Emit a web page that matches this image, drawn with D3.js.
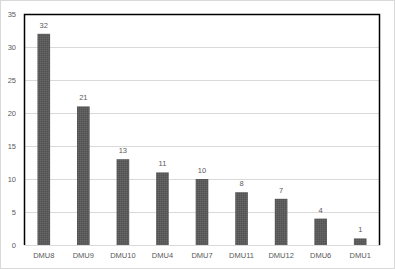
<!DOCTYPE html>
<html>
<head>
<meta charset="utf-8">
<script src="https://cdn.jsdelivr.net/npm/d3@7"></script>
<style>
  html, body { margin: 0; padding: 0; background: #fff; }
  svg { display: block; }
</style>
</head>
<body>
<div class="chart"></div>
<script>
// data
const categories = ['DMU8', 'DMU9', 'DMU10', 'DMU4', 'DMU7', 'DMU11', 'DMU12', 'DMU6', 'DMU1'];
const values = [32, 21, 13, 11, 10, 8, 7, 4, 1];
const yTicks = [0, 5, 10, 15, 20, 25, 30, 35];

// dimensions
const width = 395;
const height = 269;
const margin = { top: 14, right: 15, bottom: 24, left: 24 };
const innerWidth = width - margin.left - margin.right;
const innerHeight = height - margin.top - margin.bottom;

// colors
const barColor = '#5c5c5c';
const gridColor = '#d9d9d9';
const textColor = '#595959';
const font = 'Liberation Sans, Arial, sans-serif';

const svg = d3.select('.chart')
  .append('svg')
    .attr('width', width)
    .attr('height', height);

// fine dotted texture for bars
const pattern = svg.append('defs')
  .append('pattern')
    .attr('id', 'tex')
    .attr('width', 2)
    .attr('height', 2)
    .attr('patternUnits', 'userSpaceOnUse');
pattern.append('rect')
    .attr('width', 2).attr('height', 2)
    .attr('fill', barColor);
pattern.append('rect')
    .attr('width', 1).attr('height', 1)
    .attr('fill', '#666666');
pattern.append('rect')
    .attr('x', 1).attr('y', 1)
    .attr('width', 1).attr('height', 1)
    .attr('fill', '#525252');

// outer border
svg.append('rect')
    .attr('x', 0.5).attr('y', 0.5)
    .attr('width', width - 1).attr('height', height - 1)
    .attr('fill', 'none')
    .attr('stroke', gridColor);

const innerChart = svg.append('g')
    .attr('transform', `translate(${margin.left}, ${margin.top})`);

// scales
const xScale = d3.scaleBand()
  .domain(categories)
  .range([0, innerWidth])
  .paddingInner(0.68)
  .paddingOuter(0.34);

const yScale = d3.scaleLinear()
  .domain([0, 35])
  .range([innerHeight, 0]);

// gridlines
innerChart.append('g')
  .selectAll('line')
  .data(yTicks.filter(d => d > 0))
  .join('line')
    .attr('x1', 0)
    .attr('x2', innerWidth)
    .attr('y1', d => Math.round(yScale(d)) + 0.5)
    .attr('y2', d => Math.round(yScale(d)) + 0.5)
    .attr('stroke', gridColor);

// bars
innerChart.selectAll('.bar')
  .data(values)
  .join('rect')
    .attr('class', 'bar')
    .attr('x', (d, i) => xScale(categories[i]))
    .attr('y', d => yScale(d))
    .attr('width', xScale.bandwidth())
    .attr('height', d => innerHeight - yScale(d))
    .attr('fill', 'url(#tex)');

// value labels
innerChart.selectAll('.val')
  .data(values)
  .join('text')
    .attr('class', 'val')
    .text(d => d)
    .attr('x', (d, i) => xScale(categories[i]) + xScale.bandwidth() / 2)
    .attr('y', d => yScale(d) - 6)
    .attr('text-anchor', 'middle')
    .attr('font-family', font)
    .attr('font-size', 7.5)
    .attr('fill', textColor);

// x axis
const bottomAxis = d3.axisBottom(xScale).tickSize(0).tickPadding(8);
const xAxis = innerChart.append('g')
    .attr('transform', `translate(0, ${innerHeight})`)
    .call(bottomAxis);
xAxis.select('.domain').attr('stroke', gridColor);
xAxis.selectAll('text')
    .attr('font-family', font)
    .attr('font-size', 7.5)
    .attr('fill', textColor);

// y axis
const leftAxis = d3.axisLeft(yScale).tickValues(yTicks).tickSize(0).tickPadding(8);
const yAxis = innerChart.append('g').call(leftAxis);
yAxis.select('.domain').remove();
yAxis.selectAll('text')
    .attr('font-family', font)
    .attr('font-size', 7.5)
    .attr('fill', textColor);

// black frame on left, top, right
innerChart.append('path')
    .attr('d', `M0.5,${innerHeight} V0.5 H${innerWidth - 0.5} V${innerHeight}`)
    .attr('fill', 'none')
    .attr('stroke', '#000')
    .attr('stroke-width', 1.5);
</script>
</body>
</html>
